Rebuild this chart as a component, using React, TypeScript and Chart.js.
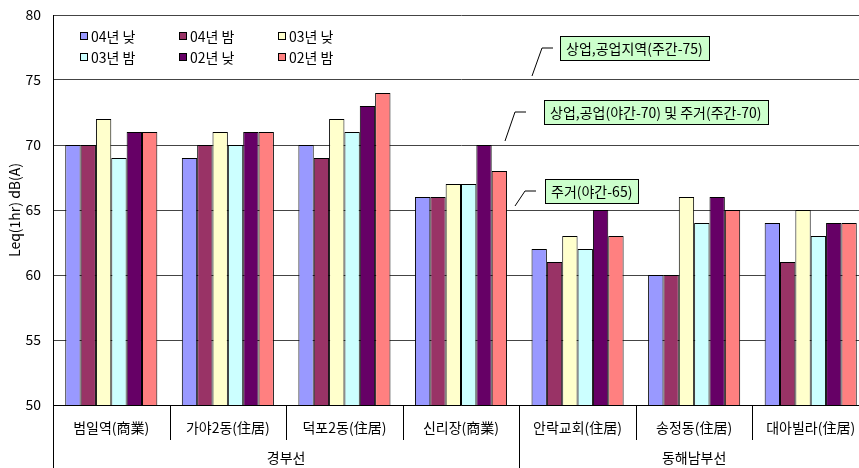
import React, { useEffect, useRef } from "react";
import { Chart, registerables } from "chart.js";
Chart.register(...registerables);

const categories = ["범일역(商業)", "가야2동(住居)", "덕포2동(住居)", "신리장(商業)", "안락교회(住居)", "송정동(住居)", "대아빌라(住居)"];
const seriesNames = ["04년 낮", "04년 밤", "03년 낮", "03년 밤", "02년 낮", "02년 밤"];
const seriesColors = ["#9999ff", "#993366", "#ffffcc", "#ccffff", "#660066", "#ff8080"];
const v04Day = [70, 69, 70, 66, 62, 60, 64];
const v04Night = [70, 70, 69, 66, 61, 60, 61];
const v03Day = [72, 71, 72, 67, 63, 66, 65];
const v03Night = [69, 70, 71, 67, 62, 64, 63];
const v02Day = [71, 71, 73, 70, 65, 66, 64];
const v02Night = [71, 71, 74, 68, 63, 65, 64];
const groupNames = ["경부선", "동해남부선"];
const groupSizes = [4, 3];
const yMin = 50;
const yMax = 80;
const yStep = 5;
const yTitle = "Leq(1hr) dB(A)";
const limitValues = [75, 70, 65];
const limitLabels = ["상업,공업지역(주간-75)", "상업,공업(야간-70) 및 주거(주간-70)", "주거(야간-65)"];

const FONT = "'Noto Sans CJK KR', 'Noto Sans', sans-serif";

// layout for annotation callouts (pixel offsets relative to the point on the limit line)
const calloutLayout = [
  { x: 532, up: 32, box: 28 },
  { x: 505, up: 33, box: 39 },
  { x: 515, up: 19, box: 30 },
];

const extrasPlugin = {
  id: "extras",
  afterDraw(chart: any) {
    const ctx = chart.ctx;
    const xs = chart.scales.x;
    const ys = chart.scales.y;
    const area = chart.chartArea;
    const H = chart.height;
    ctx.save();
    // category separators and group labels
    const half = (xs.getPixelForValue(1) - xs.getPixelForValue(0)) / 2;
    const groupEdges = new Set<number>();
    let acc = 0;
    groupEdges.add(0);
    groupSizes.forEach((s) => { acc += s; groupEdges.add(acc); });
    ctx.strokeStyle = "#000";
    ctx.lineWidth = 1;
    for (let i = 0; i <= categories.length; i++) {
      const bx = Math.round(xs.getPixelForValue(i) - half) + 0.5;
      ctx.beginPath();
      ctx.moveTo(bx, area.bottom);
      ctx.lineTo(bx, groupEdges.has(i) ? H : area.bottom + 35);
      ctx.stroke();
    }
    ctx.fillStyle = "#000";
    ctx.font = "14px " + FONT;
    ctx.textAlign = "center";
    ctx.textBaseline = "middle";
    let start = 0;
    groupNames.forEach((g, gi) => {
      const end = start + groupSizes[gi] - 1;
      const cx = (xs.getPixelForValue(start) + xs.getPixelForValue(end)) / 2;
      ctx.fillText(g, cx, area.bottom + 53);
      start = end + 1;
    });

    // legend (3 columns, 2 rows) inside plot
    ctx.font = "14px " + FONT;
    ctx.textAlign = "left";
    chart.data.datasets.forEach((ds: any, i: number) => {
      const col = i % 3;
      const row = Math.floor(i / 3);
      const lx = 80 + col * 99;
      const ly = 36 + row * 21;
      ctx.fillStyle = ds.backgroundColor;
      ctx.fillRect(lx, ly - 4, 8, 8);
      ctx.strokeStyle = "#000";
      ctx.strokeRect(lx + 0.5, ly - 3.5, 7, 7);
      ctx.fillStyle = "#000";
      ctx.fillText(ds.label, lx + 11, ly + 1);
    });

    // callouts
    limitValues.forEach((v, i) => {
      const L = calloutLayout[i];
      const y0 = ys.getPixelForValue(v);
      const yc = y0 - L.up;
      ctx.strokeStyle = "#000";
      ctx.lineWidth = 1;
      ctx.beginPath();
      ctx.moveTo(L.x, y0 - 4);
      ctx.lineTo(L.x + 10, yc);
      ctx.lineTo(L.x + 21, yc);
      ctx.stroke();
      ctx.font = "14px " + FONT;
      const tw = ctx.measureText(limitLabels[i]).width;
      const bx = L.x + L.box;
      const bw = Math.round(tw + 12);
      const bh = 24;
      const by = Math.round(yc - bh / 2);
      ctx.fillStyle = "#ccffcc";
      ctx.fillRect(bx, by, bw, bh);
      ctx.strokeRect(bx + 0.5, by + 0.5, bw, bh);
      ctx.fillStyle = "#000";
      ctx.textAlign = "left";
      ctx.fillText(limitLabels[i], bx + 6, yc + 1);
    });
    ctx.restore();
  },
};

export default function App() {
  const ref = useRef<HTMLCanvasElement | null>(null);
  useEffect(() => {
    if (!ref.current) return;
    const values = [v04Day, v04Night, v03Day, v03Night, v02Day, v02Night];
    const chart = new Chart(ref.current, {
      type: "bar",
      data: {
        labels: categories,
        datasets: seriesNames.map((n, i) => ({
          label: n,
          data: values[i],
          backgroundColor: seriesColors[i],
          borderColor: "#000",
          borderWidth: 1,
          barPercentage: 1,
          categoryPercentage: 0.79,
        })),
      },
      options: {
        animation: false,
        responsive: true,
        maintainAspectRatio: false,
        layout: { padding: { top: 15, right: 6, left: 0, bottom: 0 } },
        plugins: { legend: { display: false }, tooltip: { enabled: false } },
        scales: {
          x: {
            grid: { display: false, drawTicks: false },
            border: { display: true, color: "#000", width: 1 },
            ticks: { font: { size: 14, family: FONT }, color: "#000", padding: 14, maxRotation: 0, autoSkip: false },
            afterFit: (s: any) => { s.height = 63; s.paddingLeft = 0; s.paddingRight = 0; },
          },
          y: {
            min: yMin,
            max: yMax,
            ticks: { stepSize: yStep, font: { size: 14, family: FONT }, color: "#000", padding: 12 },
            grid: { color: "#444", lineWidth: 1, drawTicks: false },
            border: { display: true, color: "#000", width: 1 },
            title: { display: true, text: yTitle, font: { size: 14, family: FONT }, color: "#000", padding: { top: 6, bottom: 0 } },
            afterFit: (s: any) => { s.width = 53; s.paddingTop = 0; s.paddingBottom = 0; },
          },
        },
      },
      plugins: [extrasPlugin],
    });
    return () => chart.destroy();
  }, []);
  return (
    <div style={{ position: "fixed", left: 0, top: 0, width: 859, height: 468, overflow: "hidden", background: "#fff" }}>
      <div style={{ position: "relative", width: 875, height: 468 }}>
        <canvas ref={ref} />
      </div>
    </div>
  );
}
